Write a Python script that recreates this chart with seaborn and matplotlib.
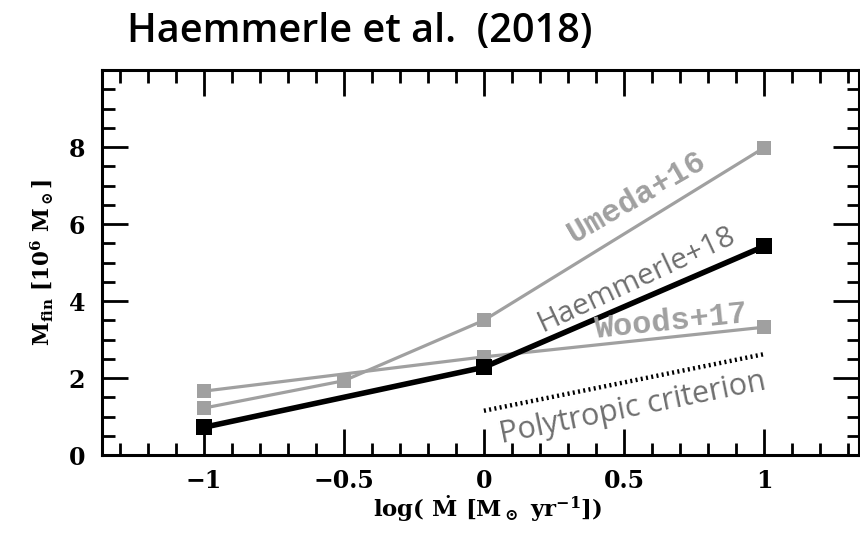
import matplotlib
matplotlib.use("Agg")
import matplotlib.pyplot as plt
import seaborn as sns
from matplotlib.ticker import MultipleLocator

# data
haem_x = [-1.0, 0.0, 1.0]
haem_y = [0.72, 2.28, 5.42]
umeda_x = [-1.0, -0.5, 0.0, 1.0]
umeda_y = [1.22, 1.93, 3.50, 7.98]
woods_x = [-1.0, 0.0, 1.0]
woods_y = [1.66, 2.55, 3.32]
poly_x = [0.0, 1.0]
poly_y = [1.15, 2.62]
xtick_vals = [-1, -0.5, 0, 0.5, 1]
xtick_labels = ["\u22121", "\u22120.5", "0", "0.5", "1"]
ytick_vals = [0, 2, 4, 6, 8]

sns.set_style("ticks")
plt.rcParams["text.color"] = "black"
plt.rcParams["axes.labelcolor"] = "black"
plt.rcParams["xtick.color"] = "black"
plt.rcParams["ytick.color"] = "black"
plt.rcParams["mathtext.fontset"] = "custom"
plt.rcParams["mathtext.rm"] = "DejaVu Serif:bold"
plt.rcParams["mathtext.it"] = "DejaVu Serif:bold"
plt.rcParams["mathtext.bf"] = "DejaVu Serif:bold"

fig = plt.figure(figsize=(8.6, 5.39), dpi=100)
ax = fig.add_axes([0.1186, 0.1558, 0.8804, 0.7142])

gray = "#a0a0a0"
sns.lineplot(x=umeda_x, y=umeda_y, ax=ax, color=gray, lw=2.3, marker="s",
             markersize=10, markeredgewidth=0, markerfacecolor=gray, zorder=2)
sns.lineplot(x=woods_x, y=woods_y, ax=ax, color=gray, lw=2.3, marker="s",
             markersize=10, markeredgewidth=0, markerfacecolor=gray, zorder=2)
sns.lineplot(x=haem_x, y=haem_y, ax=ax, color="black", lw=4, marker="s",
             markersize=12, markeredgewidth=0, markerfacecolor="black", zorder=3)
sns.lineplot(x=poly_x, y=poly_y, ax=ax, color="black", lw=3.2,
             linestyle=(0, (0.45, 0.75)), zorder=2)

ax.set_xlim(-1.364, 1.34)
ax.set_ylim(0, 10)
ax.set_xticks(xtick_vals)
ax.set_xticklabels(xtick_labels)
ax.xaxis.set_minor_locator(MultipleLocator(0.1))
ax.set_yticks(ytick_vals)
ax.set_yticklabels([str(v) for v in ytick_vals])
ax.yaxis.set_minor_locator(MultipleLocator(0.5))
ax.tick_params(which="both", direction="in", top=True, right=True, width=2, color="black")
ax.tick_params(which="major", length=19)
ax.tick_params(which="minor", length=9)
ax.tick_params(axis="x", which="major", pad=10)
ax.tick_params(axis="y", which="major", pad=12)
for s in ax.spines.values():
    s.set_linewidth(2.2)
    s.set_color("black")

for lab in ax.get_xticklabels() + ax.get_yticklabels():
    lab.set_fontfamily("DejaVu Serif")
    lab.set_fontweight("bold")
    lab.set_fontsize(17)

ax.set_xlabel(r"log( $\dot{\rm M}$ [M$_\odot$ yr$^{-1}$])", fontsize=16.5,
              fontfamily="DejaVu Serif", fontweight="bold", labelpad=2)
ax.xaxis.set_label_coords(0.51, -0.1)
ax.set_ylabel(r"M$_{\rm fin}$ [10$^6$ M$_\odot$]", fontsize=15.5,
              fontfamily="DejaVu Serif", fontweight="bold", labelpad=10)

ax.text(0.546, 6.68, "Umeda+16", rotation=30, color=gray, fontsize=23,
        fontfamily="Liberation Mono", fontweight="bold", ha="center", va="center")
ax.text(0.543, 4.55, "Haemmerle+18", rotation=25, color="#6e6e6e", fontsize=21.5,
        fontfamily="Open Sans", ha="center", va="center")
ax.text(0.668, 3.45, "Woods+17", rotation=6, color=gray, fontsize=23,
        fontfamily="Liberation Mono", fontweight="bold", ha="center", va="center")
ax.text(0.532, 1.22, "Polytropic criterion", rotation=11.5, color="#6e6e6e", fontsize=22,
        fontfamily="Open Sans", ha="center", va="center")

fig.text(0.148, 0.922, "Haemmerle et al.  (2018)", fontsize=28.5, fontfamily="Open Sans",
         fontweight="semibold", ha="left", va="baseline", color="black")

fig.savefig("out.png", dpi=100)
